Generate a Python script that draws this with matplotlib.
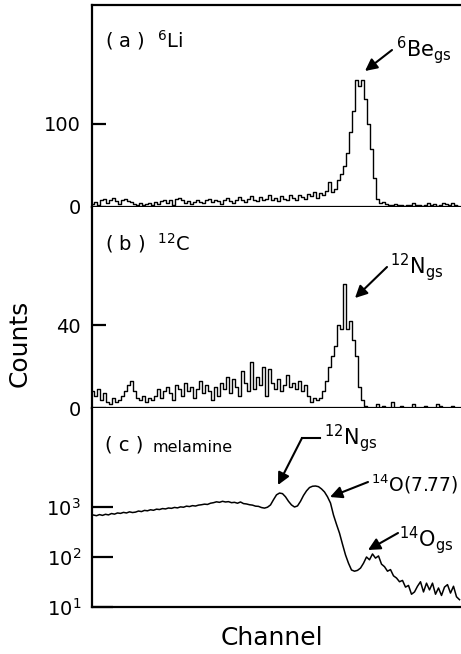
import numpy as np
import matplotlib
matplotlib.use("Agg")
import matplotlib.pyplot as plt
from matplotlib.ticker import FixedLocator, NullLocator

plt.rcParams['font.family'] = ['DejaVu Sans']
plt.rcParams['mathtext.fontset'] = 'dejavusans'
plt.rcParams['mathtext.default'] = 'regular'

# ---------------- data (counts per channel) ----------------
counts_li6 = [
    4, 6, 3, 8, 10, 5, 9, 11, 7, 4,
    8, 10, 7, 6, 4, 3, 5, 2, 4, 5,
    3, 6, 4, 7, 9, 5, 8, 3, 10, 11,
    8, 5, 7, 4, 6, 9, 6, 5, 8, 10,
    6, 9, 7, 4, 8, 11, 7, 5, 9, 12,
    8, 6, 10, 13, 9, 7, 12, 8, 10, 14,
    9, 11, 7, 13, 10, 8, 14, 11, 9, 15,
    12, 10, 16, 13, 18, 11, 17, 14, 19, 30,
    18, 22, 32, 40, 49, 65, 90, 115, 153, 145,
    153, 130, 100, 70, 35, 10, 5, 6, 4, 3,
    2, 4, 3, 2, 1, 3, 2, 5, 3, 2,
    1, 3, 5, 2, 4, 1, 2, 5, 4, 2, 5, 3, 1,
]
counts_c12 = [
    8, 6, 9, 4, 7, 3, 2, 5, 3, 4,
    6, 8, 11, 13, 8, 5, 4, 6, 3, 5,
    4, 6, 9, 5, 8, 10, 7, 4, 11, 9,
    6, 12, 8, 10, 5, 9, 13, 7, 11, 8,
    4, 10, 6, 12, 9, 15, 7, 14, 10, 6,
    18, 12, 8, 22, 9, 15, 11, 20, 6, 19,
    12, 9, 14, 8, 11, 16, 10, 12, 9, 13,
    8, 11, 6, 3, 5, 4, 5, 8, 13, 20,
    25, 30, 40, 38, 60, 38, 42, 33, 25, 10,
    4, 1, 0, 0, 0, 2, 0, 1, 0, 0,
    3, 0, 0, 1, 0, 0, 0, 2, 0, 0,
    0, 1, 0, 0, 0, 2, 1, 0, 0, 0, 1, 0, 0,
]
counts_melamine = [
    690, 670, 705, 680, 715, 695, 740, 720, 760, 745,
    780, 760, 800, 775, 790, 830, 810, 855, 840, 880,
    860, 905, 890, 930, 915, 955, 940, 980, 960, 1005,
    990, 1040, 1020, 1065, 1045, 1090, 1110, 1140, 1125, 1190,
    1220, 1270, 1240, 1300, 1260, 1280, 1220, 1240, 1190, 1260,
    1170, 1150, 1110, 1090, 1040, 1030, 975, 950, 990, 1100,
    1400, 1750, 1900, 1850, 1600, 1300, 1100, 1000, 1050, 1300,
    1700, 2100, 2450, 2600, 2630, 2550, 2300, 2000, 1600, 1200,
    690, 450, 300, 180, 110, 75, 55, 52, 54, 60,
    75, 100, 88, 115, 95, 105, 72, 64, 52, 56,
    42, 38, 32, 34, 25, 27, 18, 20, 26, 32,
    20, 30, 22, 30, 18, 24, 17, 25, 28, 19, 26, 16, 14,
]
ticks_a = [0, 100]
ticks_b = [0, 40]
ticks_c = [10, 100, 1000]

W, H = 461, 654
fig = plt.figure(figsize=(W / 100, H / 100), dpi=100)


def fx(px):
    return px / W


def fy(py):
    return 1 - py / H


left = fx(92)
width = 1.0 - left
axA = fig.add_axes([left, fy(207), width, (207 - 5) / H])
axB = fig.add_axes([left, fy(408), width, (408 - 207) / H])
axC = fig.add_axes([left, fy(607), width, (607 - 408) / H])

nch = len(counts_li6)
ch = np.arange(nch)

lw_data = 1.0
axA.step(ch, counts_li6, where='mid', color='black', lw=lw_data)
axB.step(ch, counts_c12, where='mid', color='black', lw=lw_data)
axC.plot(ch + 0.5, counts_melamine, color='black', lw=1.1)

for ax in (axA, axB, axC):
    ax.set_xlim(0, nch)
    ax.xaxis.set_major_locator(NullLocator())
    ax.spines['right'].set_visible(False)
    for s in ['left', 'bottom', 'top']:
        ax.spines[s].set_linewidth(1.6)
    ax.tick_params(axis='y', direction='in', labelsize=14, width=1.6, pad=8)

axB.spines['top'].set_visible(False)
axC.spines['top'].set_visible(False)

axA.set_ylim(0, 243)
axA.yaxis.set_major_locator(FixedLocator(ticks_a))
axA.tick_params(axis='y', length=10)

axB.set_ylim(0, 97)
axB.yaxis.set_major_locator(FixedLocator(ticks_b))
axB.tick_params(axis='y', length=10)

axC.set_yscale('log')
axC.set_ylim(10, 10 ** 4.98)
axC.yaxis.set_major_locator(FixedLocator(ticks_c))
axC.yaxis.set_minor_locator(NullLocator())
axC.tick_params(axis='y', length=15)

# ---- text annotations ----
fs_lab = 14
fig.text(fx(105), fy(40), r'( a )  $^{6}$Li', fontsize=fs_lab, va='center', ha='left')
fig.text(fx(105), fy(243), r'( b )  $^{12}$C', fontsize=fs_lab, va='center', ha='left')
fig.text(fx(105), fy(445), r'( c )', fontsize=fs_lab, va='center', ha='left')
fig.text(fx(153), fy(447), 'melamine', fontsize=11.5, va='center', ha='left')

fig.text(fx(396), fy(50), r'$^{6}$Be$_{gs}$', fontsize=15, va='center', ha='left')
fig.text(fx(390), fy(267), r'$^{12}$N$_{gs}$', fontsize=15, va='center', ha='left')
fig.text(fx(324), fy(438), r'$^{12}$N$_{gs}$', fontsize=15, va='center', ha='left')
fig.text(fx(371), fy(484), r'$^{14}$O(7.77)', fontsize=13.5, va='center', ha='left')
fig.text(fx(399), fy(540), r'$^{14}$O$_{gs}$', fontsize=15, va='center', ha='left')

arrow_kw = dict(arrowstyle='-|>', color='black', lw=1.5, mutation_scale=18,
                shrinkA=0, shrinkB=0)


def farrow(x0, y0, x1, y1):
    fig.add_artist(matplotlib.patches.FancyArrowPatch(
        (fx(x0), fy(y0)), (fx(x1), fy(y1)), transform=fig.transFigure, **arrow_kw))


farrow(392, 50, 365, 71)
farrow(387, 267, 355, 298)
fig.add_artist(matplotlib.lines.Line2D([fx(302), fx(320)], [fy(438), fy(438)],
                                       transform=fig.transFigure, color='black', lw=1.5))
farrow(302, 438, 278, 485)
farrow(368, 482, 330, 497)
farrow(398, 533, 368, 550)

fig.text(fx(20), fy(343), 'Counts', fontsize=18, rotation=90, va='center', ha='center')
fig.text(fx(272), fy(638), 'Channel', fontsize=18, va='center', ha='center')

fig.savefig('out.png', dpi=100)
